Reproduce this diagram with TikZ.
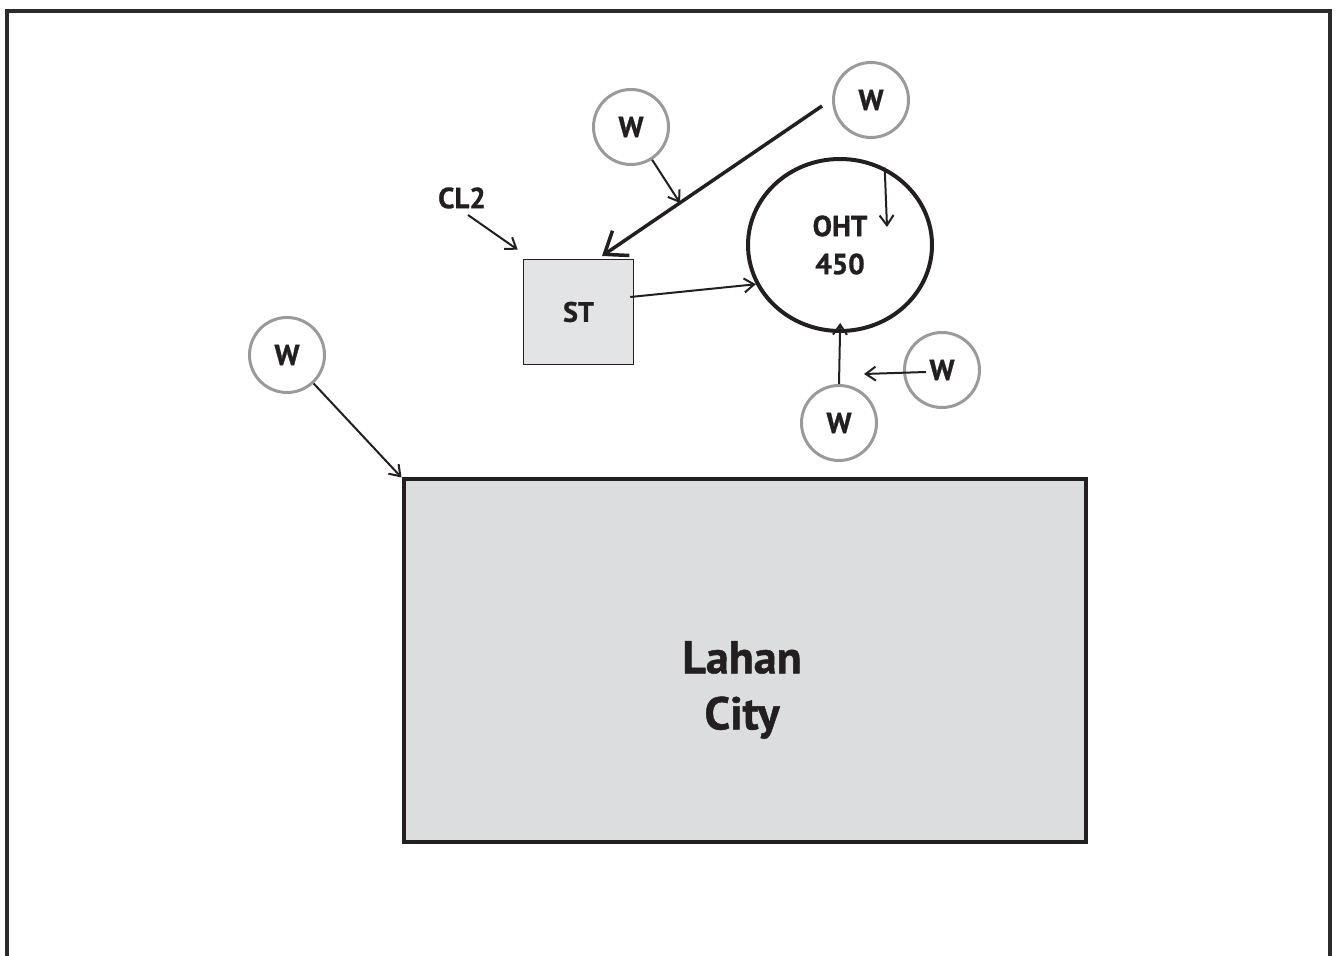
\documentclass[tikz,border=0pt]{standalone}
\usepackage{fontspec}
\setmainfont{PT Sans}[BoldFeatures={FakeBold=1}]
\usepackage{xcolor}
\usepackage{tikz}
\usetikzlibrary{arrows.meta,positioning,shapes.geometric,calc}
\definecolor{inkblack}{HTML}{231F20}
\definecolor{wellgray}{HTML}{9A9A9A}
\definecolor{areafill}{HTML}{DCDDDF}
\definecolor{framegray}{HTML}{2B2B2B}

\begin{document}
\begin{tikzpicture}[x=0.5pt, y=-0.5pt,
  well/.style={draw=wellgray, line width=1.5pt, circle, minimum size=37.5pt, inner sep=0pt, font=\fontsize{14.5}{15}\selectfont\bfseries, text=inkblack},
  tank/.style={draw=inkblack, line width=2pt, ellipse, minimum width=92pt, minimum height=86pt, inner sep=0pt, align=center, font=\fontsize{14.5}{19}\selectfont\bfseries, text=inkblack},
  station/.style={draw=inkblack, line width=0.75pt, fill=areafill!80, minimum width=55pt, minimum height=52.5pt, inner sep=0pt, font=\fontsize{14}{16}\selectfont\bfseries, text=inkblack},
  area/.style={draw=inkblack, line width=2pt, fill=areafill, minimum width=341pt, minimum height=181pt, inner sep=0pt},
  flow/.style={-{Straight Barb[length=5pt, width=7pt]}, line width=1pt, draw=inkblack},
  mainflow/.style={-{Straight Barb[length=10pt, width=15pt]}, line width=1.75pt, draw=inkblack},
]
\useasboundingbox (0,0) rectangle (1338,956);
\draw[line width=1.6pt, draw=framegray] (7,970) -- (7,11) -- (1330,11) -- (1330,970);

\node[area] (lahan) at (744.5,660.5) {};
\node[align=center, font=\fontsize{23}{28}\selectfont\bfseries, text=inkblack] (lahantext) at (742,690) {Lahan\\City};
\node[station] (st) at (578.5,312) {ST};
\node[tank] (oht) at (840,245) {OHT\\450};
\node[font=\fontsize{14.5}{16}\selectfont\bfseries, text=inkblack] (cl2) at (462,198) {CL2};

\node[well] (w1) at (631,127) {W};
\node[well] (w2) at (871,100) {W};
\node[well] (w3) at (287,355) {W};
\node[well] (w4) at (942,370) {W};
\node[well] (w5) at (839,423) {W};

\coordinate (stin) at (602,256);
\coordinate (tapw1) at (680,203);
\coordinate (ohtin) at (887,227);
\coordinate (hw4) at (864,374);

\draw[flow] (w3) -- (lahan.north west);
\draw[mainflow] ([shift={(-49,6)}]w2.center) -- (stin);
\draw[flow] (w1) -- (tapw1);
\draw[flow] ([shift={(6,17)}]cl2.center) -- ([shift={(-5,-9)}]st.north west);
\draw[flow] ([shift={(-4,-15)}]st.east) -- (oht.205);
\draw[flow] (oht.60) -- (ohtin);
\draw[flow, shorten >=-5pt] (w5.north) -- (oht.south);
\draw[flow] ([shift={(-16,2)}]w4.center) -- (hw4);

\end{tikzpicture}
\end{document}
